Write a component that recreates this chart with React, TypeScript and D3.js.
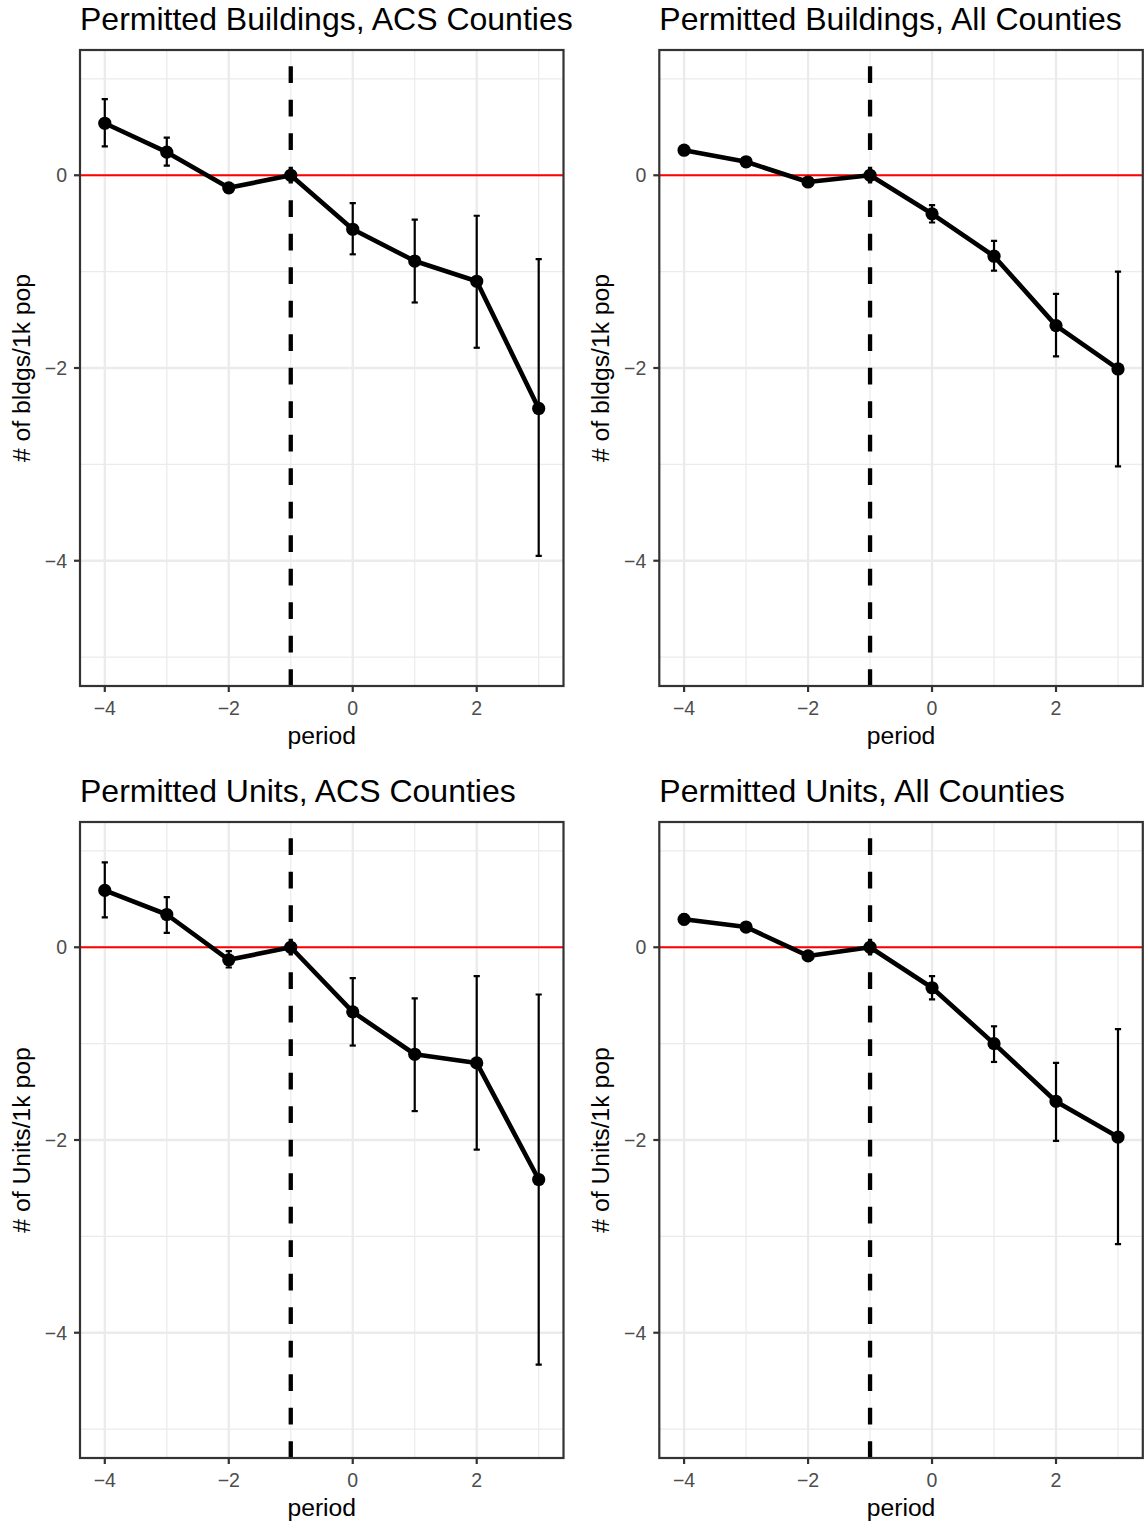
import React from "react";
import * as d3 from "d3";

// Event-study estimates of permitting per 1k population, by period relative to treatment
const periods = [-4, -3, -2, -1, 0, 1, 2, 3];

const bldgsAcsEst = [0.54, 0.24, -0.13, 0, -0.56, -0.89, -1.1, -2.42];
const bldgsAcsLo = [0.3, 0.1, -0.17, 0, -0.82, -1.32, -1.79, -3.95];
const bldgsAcsHi = [0.79, 0.39, -0.09, 0, -0.29, -0.46, -0.42, -0.87];

const bldgsAllEst = [0.26, 0.14, -0.07, 0, -0.4, -0.84, -1.56, -2.01];
const bldgsAllLo = [0.23, 0.11, -0.1, 0, -0.49, -0.99, -1.88, -3.02];
const bldgsAllHi = [0.29, 0.17, -0.04, 0, -0.31, -0.68, -1.23, -1.0];

const unitsAcsEst = [0.59, 0.34, -0.13, 0, -0.67, -1.11, -1.2, -2.41];
const unitsAcsLo = [0.31, 0.15, -0.21, 0, -1.02, -1.7, -2.1, -4.33];
const unitsAcsHi = [0.88, 0.52, -0.04, 0, -0.32, -0.53, -0.3, -0.49];

const unitsAllEst = [0.29, 0.21, -0.09, 0, -0.42, -1.0, -1.6, -1.97];
const unitsAllLo = [0.24, 0.18, -0.13, 0, -0.54, -1.19, -2.01, -3.08];
const unitsAllHi = [0.34, 0.24, -0.05, 0, -0.3, -0.82, -1.2, -0.85];

const panelTitles = [
  "Permitted Buildings, ACS Counties",
  "Permitted Buildings, All Counties",
  "Permitted Units, ACS Counties",
  "Permitted Units, All Counties",
];
const yTitles = ["# of bldgs/1k pop", "# of bldgs/1k pop", "# of Units/1k pop", "# of Units/1k pop"];
const xTitle = "period";

const xMajorTicks = [-4, -2, 0, 2];
const xMinorTicks = [-3, -1, 1, 3];
const yMajorTicks = [-4, -2, 0];
const yMinorTicks = [-5, -3, -1, 1];
const treatmentPeriod = -1;

const series = [
  { est: bldgsAcsEst, lo: bldgsAcsLo, hi: bldgsAcsHi },
  { est: bldgsAllEst, lo: bldgsAllLo, hi: bldgsAllHi },
  { est: unitsAcsEst, lo: unitsAcsLo, hi: unitsAcsHi },
  { est: unitsAllEst, lo: unitsAllLo, hi: unitsAllHi },
];

// Layout
const W = 1144;
const H = 1526;
const PLOT_LEFT = 80;
const PLOT_TOP = 50;
const PLOT_W = 483.5;
const PLOT_H = 636;
const COL_OFFSET = 579.3;
const ROW_OFFSET = 772;
const FONT = "'Liberation Sans', Arial, Helvetica, sans-serif";
const fmt = (v: number) => (v < 0 ? "\u2212" + Math.abs(v) : String(v));

function Panel({ index }: { index: number }) {
  const col = index % 2;
  const row = Math.floor(index / 2);
  const ox = col * COL_OFFSET;
  const oy = row * ROW_OFFSET;
  const s = series[index];

  const x = d3.scaleLinear().domain([-4.4, 3.4]).range([PLOT_LEFT, PLOT_LEFT + PLOT_W]);
  const y = d3.scaleLinear().domain([-5.3, 1.3]).range([PLOT_TOP + PLOT_H, PLOT_TOP]);

  const pts = periods.map((p, i) => ({ p, est: s.est[i], lo: s.lo[i], hi: s.hi[i] }));
  const line = d3
    .line<{ p: number; est: number }>()
    .x((d) => x(d.p))
    .y((d) => y(d.est));

  const capHalf = x(0.05) - x(0);
  const x0 = PLOT_LEFT;
  const x1 = PLOT_LEFT + PLOT_W;
  const y0 = PLOT_TOP;
  const y1 = PLOT_TOP + PLOT_H;
  const clipId = `clip-${index}`;

  return (
    <g transform={`translate(${ox},${oy})`}>
      <defs>
        <clipPath id={clipId}>
          <rect x={x0} y={y0} width={PLOT_W} height={PLOT_H} />
        </clipPath>
      </defs>
      <text x={PLOT_LEFT} y={30} fontSize={32} fill="#000" fontFamily={FONT}>
        {panelTitles[index]}
      </text>
      <rect x={x0} y={y0} width={PLOT_W} height={PLOT_H} fill="#fff" />
      <g clipPath={`url(#${clipId})`}>
        {/* grid */}
        {yMinorTicks.map((t) => (
          <line key={"ym" + t} x1={x0} x2={x1} y1={y(t)} y2={y(t)} stroke="#EBEBEB" strokeWidth={1.2} />
        ))}
        {xMinorTicks.map((t) => (
          <line key={"xm" + t} x1={x(t)} x2={x(t)} y1={y0} y2={y1} stroke="#EBEBEB" strokeWidth={1.2} />
        ))}
        {yMajorTicks.map((t) => (
          <line key={"yM" + t} x1={x0} x2={x1} y1={y(t)} y2={y(t)} stroke="#EBEBEB" strokeWidth={2.3} />
        ))}
        {xMajorTicks.map((t) => (
          <line key={"xM" + t} x1={x(t)} x2={x(t)} y1={y0} y2={y1} stroke="#EBEBEB" strokeWidth={2.3} />
        ))}
        {/* reference lines: zero effect and treatment onset */}
        <line x1={x0} x2={x1} y1={y(0)} y2={y(0)} stroke="#FF0000" strokeWidth={2.2} />
        <line
          x1={x(treatmentPeriod)}
          x2={x(treatmentPeriod)}
          y1={y1}
          y2={y0}
          stroke="#000"
          strokeWidth={4.3}
          strokeDasharray="16.75,16.75"
        />
        {/* error bars */}
        {pts.map((d) => (
          <g key={"eb" + d.p} stroke="#000" strokeWidth={2.2}>
            <line x1={x(d.p)} x2={x(d.p)} y1={y(d.lo)} y2={y(d.hi)} />
            <line x1={x(d.p) - capHalf} x2={x(d.p) + capHalf} y1={y(d.lo)} y2={y(d.lo)} />
            <line x1={x(d.p) - capHalf} x2={x(d.p) + capHalf} y1={y(d.hi)} y2={y(d.hi)} />
          </g>
        ))}
        <path d={line(pts) || ""} fill="none" stroke="#000" strokeWidth={4.6} strokeLinejoin="round" />
        {pts.map((d) => (
          <circle key={"pt" + d.p} cx={x(d.p)} cy={y(d.est)} r={6.6} fill="#000" />
        ))}
      </g>
      <rect x={x0} y={y0} width={PLOT_W} height={PLOT_H} fill="none" stroke="#333333" strokeWidth={2.2} />
      {/* y axis */}
      {yMajorTicks.map((t) => (
        <g key={"yt" + t}>
          <line x1={x0 - 6} x2={x0} y1={y(t)} y2={y(t)} stroke="#333333" strokeWidth={2.2} />
          <text
            x={x0 - 13}
            y={y(t)}
            dy="0.36em"
            textAnchor="end"
            fontSize={19.5}
            fill="#4D4D4D"
            fontFamily={FONT}
          >
            {fmt(t)}
          </text>
        </g>
      ))}
      {/* x axis */}
      {xMajorTicks.map((t) => (
        <g key={"xt" + t}>
          <line x1={x(t)} x2={x(t)} y1={y1} y2={y1 + 6} stroke="#333333" strokeWidth={2.2} />
          <text x={x(t)} y={714.5} textAnchor="middle" fontSize={19.5} fill="#4D4D4D" fontFamily={FONT}>
            {fmt(t)}
          </text>
        </g>
      ))}
      <text
        x={(x0 + x1) / 2}
        y={744}
        textAnchor="middle"
        fontSize={24.7}
        fill="#000"
        fontFamily={FONT}
      >
        {xTitle}
      </text>
      <text
        transform={`translate(30,${(y0 + y1) / 2}) rotate(-90)`}
        textAnchor="middle"
        fontSize={24.7}
        fill="#000"
        fontFamily={FONT}
      >
        {yTitles[index]}
      </text>
    </g>
  );
}

export default function App() {
  return (
    <svg
      width={W}
      height={H}
      viewBox={`0 0 ${W} ${H}`}
      style={{ position: "absolute", left: 0, top: 0, background: "#fff" }}
    >
      <rect width={W} height={H} fill="#fff" />
      {panelTitles.map((_, i) => (
        <Panel key={i} index={i} />
      ))}
    </svg>
  );
}
